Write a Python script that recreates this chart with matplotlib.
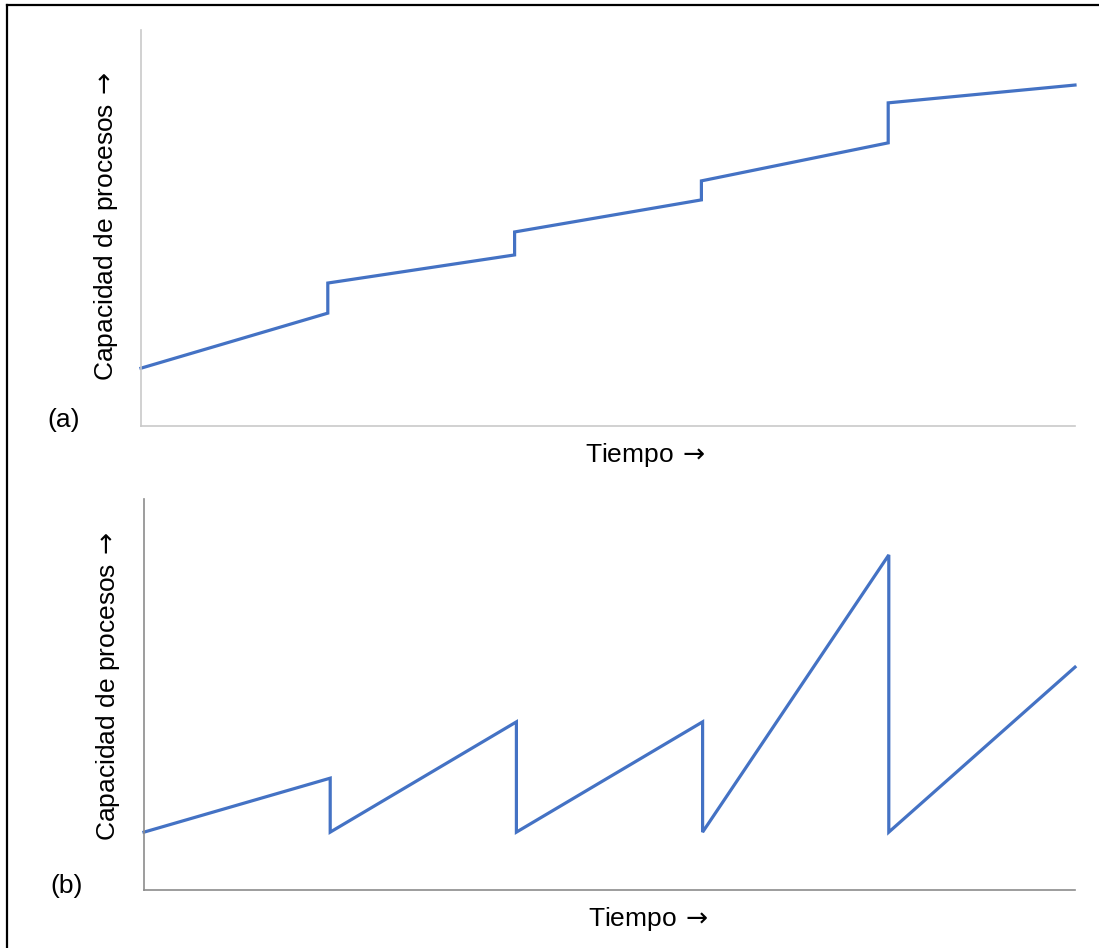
import matplotlib
matplotlib.use("Agg")
import matplotlib.pyplot as plt
from matplotlib.lines import Line2D

plt.rcParams['font.family'] = ['Liberation Sans', 'DejaVu Sans']
plt.rcParams['mathtext.fontset'] = 'dejavusans'

# Panel (a): capacity grows slowly, then jumps at each step
x_a = [0, 1, 1, 2, 2, 3, 3, 4, 4, 5]
y_a = [14.6, 28.5, 36.1, 43.2, 49.0, 57.1, 61.9, 71.5, 81.6, 86.1]

# Panel (b): capacity builds, then drops back (sawtooth)
x_b = [0, 1, 1, 2, 2, 3, 3, 4, 4, 5]
y_b = [14.8, 28.6, 14.8, 43.0, 14.8, 43.0, 14.8, 85.7, 14.8, 57.0]

ylabel = r"Capacidad de procesos$\,\rightarrow$"
xlabel = r"Tiempo$\,\rightarrow$"
line_color = "#4472C4"
fs = 19

W, H = 1099, 948
fig = plt.figure(figsize=(W / 100, H / 100), dpi=100)

def px(x, y):
    return x / W, 1 - y / H

panels = [
    dict(x=x_a, y=y_a, l=141, r=1075, t=30, b=426, spine="#c9c9c9",
         tag="(a)", tag_xy=(64, 420), xl_xy=(645, 455), yl_xy=(106, 226)),
    dict(x=x_b, y=y_b, l=144, r=1075, t=499, b=890, spine="#8c8c8c",
         tag="(b)", tag_xy=(67, 886), xl_xy=(648, 919), yl_xy=(108, 686)),
]

for p in panels:
    x0, y0 = px(p["l"], p["b"])
    x1, y1 = px(p["r"], p["t"])
    ax = fig.add_axes([x0, y0, x1 - x0, y1 - y0])
    ax.plot(p["x"], p["y"], color=line_color, linewidth=2.3,
            solid_joinstyle="miter", clip_on=False)
    ax.set_xlim(0, 5)
    ax.set_ylim(0, 100)
    ax.set_xticks([])
    ax.set_yticks([])
    for s in ["top", "right"]:
        ax.spines[s].set_visible(False)
    for s in ["left", "bottom"]:
        ax.spines[s].set_color(p["spine"])
        ax.spines[s].set_linewidth(1.2)

    fig.text(*px(*p["tag_xy"]), p["tag"], fontsize=fs, ha="center", va="center")
    fig.text(*px(*p["xl_xy"]), xlabel, fontsize=fs, ha="center", va="center")
    fig.text(*px(*p["yl_xy"]), ylabel, fontsize=fs, ha="center", va="center",
             rotation=90)

# outer frame (only top and left edges visible in the crop)
fig.add_artist(Line2D([7 / W, 7 / W], [0, 1 - 5 / H], color="black", linewidth=1.6))
fig.add_artist(Line2D([7 / W, 1], [1 - 5 / H, 1 - 5 / H], color="black", linewidth=1.6))

fig.savefig("out.png", dpi=100)
